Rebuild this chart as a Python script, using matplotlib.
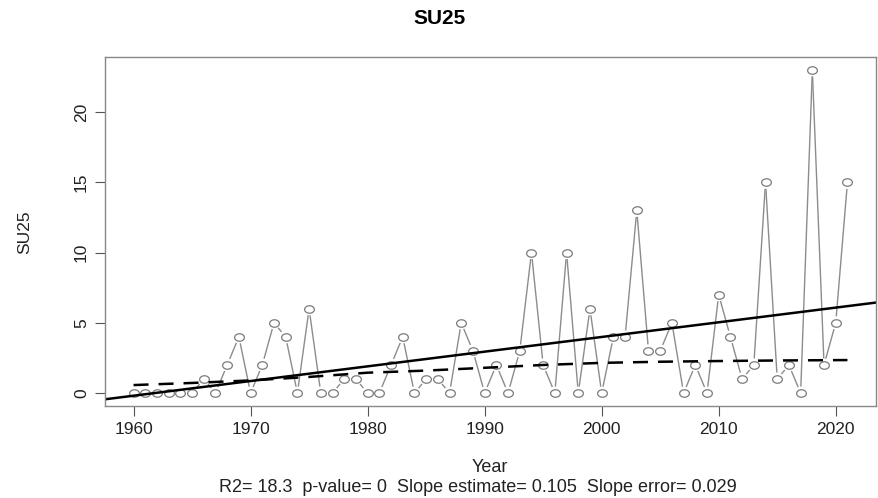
import matplotlib
matplotlib.use("Agg")
import matplotlib.pyplot as plt
import numpy as np
from matplotlib.path import Path

plt.rcParams['font.family'] = ['Liberation Sans', 'DejaVu Sans']

years = np.arange(1960, 2022)
su25 = [0, 0, 0, 0, 0, 0, 1, 0, 2, 4,
        0, 2, 5, 4, 0, 6, 0, 0, 1, 1,
        0, 0, 2, 4, 0, 1, 1, 0, 5, 3,
        0, 2, 0, 3, 10, 2, 0, 10, 0, 6,
        0, 4, 4, 13, 3, 3, 5, 0, 2, 0,
        7, 4, 1, 2, 15, 1, 2, 0, 23, 2,
        5, 15]

# smoothed curve (dashed)
smooth_years = [1960, 1965, 1970, 1975, 1980, 1985, 1990, 1995, 2000, 2005, 2010, 2015, 2021]
smooth_vals = [0.57, 0.72, 0.9, 1.15, 1.45, 1.6, 1.8, 2.0, 2.15, 2.23, 2.28, 2.32, 2.35]

stats_text = "R2= 18.3  p-value= 0  Slope estimate= 0.105  Slope error= 0.029"

W, H = 879, 498
fig = plt.figure(figsize=(W / 100, H / 100), dpi=100)
ax = fig.add_axes([105 / W, 1 - 406 / H, (876 - 105) / W, (406 - 57) / H])

x = years.astype(float)
y = np.array(su25, dtype=float)
ax.set_xlim(1960 - 0.04 * 61, 2021 + 0.04 * 61)
ax.set_ylim(-0.04 * 23, 23 + 0.04 * 23)

# R type="b": lines with a gap around each point
fig.canvas.draw()
pts = ax.transData.transform(np.column_stack([x, y]))
gap = 6.5
inv = ax.transData.inverted()
for i in range(len(pts) - 1):
    p0, p1 = pts[i], pts[i + 1]
    d = p1 - p0
    L = np.hypot(*d)
    if L <= 2 * gap:
        continue
    u = d / L
    seg = inv.transform(np.array([p0 + u * gap, p1 - u * gap]))
    ax.plot(seg[:, 0], seg[:, 1], color='#8c8c8c', lw=1.0, solid_capstyle='butt')

# slightly flattened open circles, as in the picture
t = np.linspace(0, 2 * np.pi, 41)
ellipse = Path(np.column_stack([1.3 * np.cos(t), np.sin(t)]), closed=True)
ax.plot(x, y, linestyle='none', marker=ellipse, markersize=7, fillstyle='none',
        markeredgecolor='#7a7a7a', markeredgewidth=0.9)

# linear trend across the whole plot
slope, intercept = np.polyfit(x, y, 1)
xl = np.array(ax.get_xlim())
ax.plot(xl, intercept + slope * xl, color='black', lw=1.8)

ax.plot(smooth_years, smooth_vals, color='black', lw=1.8, dashes=(6, 4))

ax.set_xticks([1960, 1970, 1980, 1990, 2000, 2010, 2020])
ax.set_yticks([0, 5, 10, 15, 20])
ax.tick_params(axis='both', length=7.5, width=0.8, color='#555555', labelsize=12.5, labelcolor='#222222', pad=4)
for lab in ax.get_yticklabels():
    lab.set_rotation(90)
    lab.set_va('center')
for s in ax.spines.values():
    s.set_color('#888888')
    s.set_linewidth(1.0)

fig.text(440 / W, 1 - 18 / H, "SU25", ha='center', va='center', fontsize=15, fontweight='bold')
fig.text(25 / W, 1 - 232 / H, "SU25", ha='center', va='center', rotation=90, fontsize=12.5, color='#222222')
fig.text(490 / W, 1 - 467 / H, "Year", ha='center', va='center', fontsize=13, color='#222222')
fig.text(478 / W, 1 - 487 / H, stats_text, ha='center', va='center', fontsize=13, color='#222222')

fig.savefig("out.png", dpi=100)
